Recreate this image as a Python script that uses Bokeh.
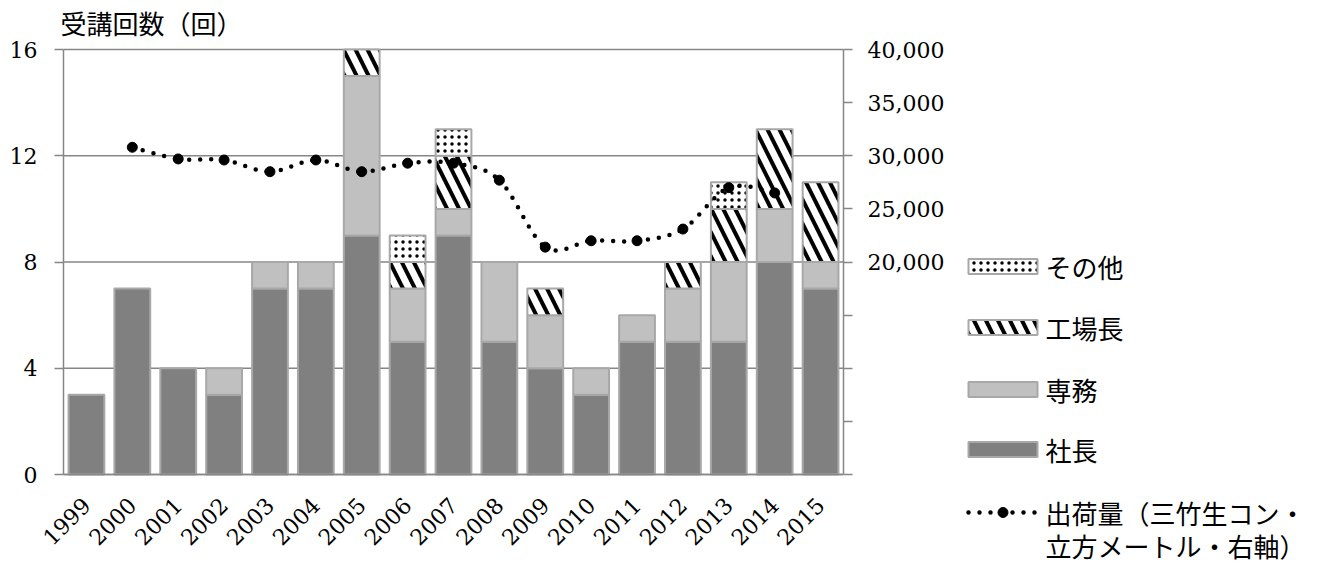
import math
import numpy as np
from bokeh.plotting import figure
from bokeh.layouts import row
from bokeh.core.properties import value
from bokeh.models import (Range1d, LinearAxis, FixedTicker, NumeralTickFormatter,
                          Label)
from bokeh.embed import file_html
from bokeh.resources import INLINE

# --- data -------------------------------------------------------------
years = [str(y) for y in range(1999, 2016)]
president = [3, 7, 4, 3, 7, 7, 9, 5, 9, 5, 4, 3, 5, 5, 5, 8, 7]      # 社長
director = [0, 0, 0, 1, 1, 1, 6, 2, 1, 3, 2, 1, 1, 2, 3, 2, 1]       # 専務
plant_mgr = [0, 0, 0, 0, 0, 0, 1, 1, 2, 0, 1, 0, 0, 1, 2, 3, 3]      # 工場長
others = [0, 0, 0, 0, 0, 0, 0, 1, 1, 0, 0, 0, 0, 0, 1, 0, 0]         # その他

ship_years = years[1:16]   # 2000-2014
shipments = [30800, 29700, 29600, 28500, 29600, 28500, 29300, 29300,
             27700, 21400, 22000, 22000, 23100, 27000, 26500]

left_ticks = [0, 4, 8, 12, 16]
right_ticks = [0, 5000, 10000, 15000, 20000, 25000, 30000, 35000, 40000]
right_hidden = [0, 5000, 10000, 15000]

legend_labels = ["その他", "工場長", "専務", "社長"]
line_label = ["出荷量（三竹生コン・", "立方メートル・右軸）"]
y_title = "受講回数（回）"

GRAY_AXIS = "#868686"
OUTLINE = "#a8a8a8"
NUM_FONT = "DejaVu Serif"
JP_FONT = "Noto Sans CJK JP"

CHART_W, LEGEND_W, H = 963, 354, 563
PLOT_LEFT, PLOT_RIGHT = 63, 843          # pixel columns of the two value axes
PLOT_TOP, PLOT_BOTTOM = 49, 474          # pixel rows of the 16 and 0 gridlines
TITLE_ROW = 22
LEFT_MAX, RIGHT_MAX = 16, 40000
N = len(years)

styles = {
    "社長": dict(fill_color="#808080"),
    "専務": dict(fill_color="#c0c0c0"),
    "工場長": dict(fill_color="white", hatch_pattern="\\", hatch_color="black",
                hatch_weight=4, hatch_scale=24),
    "その他": dict(fill_color="white", hatch_pattern=".", hatch_color="black",
                hatch_weight=1.4, hatch_scale=7),
}
line_style = dict(line_color="black", line_width=4.5, line_dash="0 11",
                  line_cap="round")

# The frame covers the canvas from its left edge down to its bottom edge, so
# axis labels are never clipped; the ranges are padded so that the category
# band and the 0..16 scale land on the pixel box given above.
span_y = PLOT_BOTTOM - PLOT_TOP
pad_top = PLOT_TOP / span_y
pad_bot = (H - PLOT_BOTTOM) / span_y
px_per_cat = (PLOT_RIGHT - PLOT_LEFT) / N
x_lo = -0.5 - PLOT_LEFT / px_per_cat

# ======================= main chart =====================================
p = figure(width=CHART_W, height=H, output_backend="svg", toolbar_location=None,
           title=None,
           x_range=Range1d(x_lo, N - 0.5),
           y_range=Range1d(-LEFT_MAX * pad_bot, LEFT_MAX * (1 + pad_top)),
           min_border_left=0, min_border_right=CHART_W - PLOT_RIGHT,
           min_border_top=0, min_border_bottom=0)
p.outline_line_color = None
p.extra_y_ranges = {"right": Range1d(-RIGHT_MAX * pad_bot,
                                     RIGHT_MAX * (1 + pad_top))}
p.xgrid.visible = False
p.ygrid.visible = False

# horizontal gridlines between the two value axes
p.segment(x0=[-0.5] * len(left_ticks), x1=[N - 0.5] * len(left_ticks),
          y0=left_ticks, y1=left_ticks, line_color=GRAY_AXIS, line_width=1.5)

x = np.arange(N)
pres = np.array(president, dtype=float)
dire = np.array(director, dtype=float)
plant = np.array(plant_mgr, dtype=float)
oth = np.array(others, dtype=float)

b0 = np.zeros_like(pres)
b1 = b0 + pres
b2 = b1 + dire
b3 = b2 + plant
b4 = b3 + oth

BAR_W = 0.78


def stack(bottom, top, **style):
    m = top > bottom
    return p.vbar(x=x[m], bottom=bottom[m], top=top[m], width=BAR_W,
                  line_color=OUTLINE, line_width=2, **style)


stack(b0, b1, **styles["社長"])
stack(b1, b2, **styles["専務"])
stack(b2, b3, **styles["工場長"])
stack(b3, b4, **styles["その他"])

# shipments: smoothed dotted curve (cubic Bezier through each point)
sx = np.array([years.index(y) for y in ship_years], dtype=float)
sy = np.array(shipments, dtype=float)
n = len(sx)
x0, y0, x1, y1, cx0, cy0, cx1, cy1 = ([] for _ in range(8))
for i in range(n - 1):
    pm = max(i - 1, 0)
    pp = min(i + 2, n - 1)
    x0.append(sx[i]); y0.append(sy[i])
    x1.append(sx[i + 1]); y1.append(sy[i + 1])
    cx0.append(sx[i] + (sx[i + 1] - sx[pm]) / 6)
    cy0.append(sy[i] + (sy[i + 1] - sy[pm]) / 6)
    cx1.append(sx[i + 1] - (sx[pp] - sx[i]) / 6)
    cy1.append(sy[i + 1] - (sy[pp] - sy[i]) / 6)

p.bezier(x0=x0, y0=y0, x1=x1, y1=y1, cx0=cx0, cy0=cy0, cx1=cx1, cy1=cy1,
         y_range_name="right", **line_style)
p.scatter(sx, sy, size=10, color="black", y_range_name="right")

# axis title above the left axis
title_y = LEFT_MAX * (1 + (PLOT_TOP - TITLE_ROW) / span_y)
title_x = -0.5 - 3 / px_per_cat
p.add_layout(Label(x=title_x, y=title_y, text=y_title, text_font=JP_FONT,
                   text_font_size="26px", text_color="black",
                   text_baseline="middle", text_align="left"))

# left axis, pinned at the left edge of the category band
yax = p.yaxis[0]
yax.fixed_location = -0.5
yax.ticker = FixedTicker(ticks=left_ticks)
yax.bounds = (0, LEFT_MAX)
yax.axis_line_color = GRAY_AXIS
yax.axis_line_width = 1.5
yax.major_tick_line_color = GRAY_AXIS
yax.major_tick_line_width = 1.5
yax.major_tick_out = 9
yax.major_tick_in = 0
yax.minor_tick_line_color = None
yax.major_label_text_font = NUM_FONT
yax.major_label_text_font_size = "22px"
yax.major_label_text_color = "black"
yax.major_label_standoff = 17

# category axis, pinned at zero
xax = p.xaxis[0]
xax.fixed_location = 0
xax.bounds = (-0.5, N - 0.5)
xax.ticker = FixedTicker(ticks=list(range(N)))
xax.major_label_overrides = {i: y for i, y in enumerate(years)}
xax.major_label_orientation = math.pi / 4
xax.major_label_text_font = NUM_FONT
xax.major_label_text_font_size = "22px"
xax.major_label_text_color = "black"
xax.major_label_standoff = 21
xax.axis_line_color = GRAY_AXIS
xax.axis_line_width = 1.5
xax.major_tick_line_color = None
xax.minor_tick_line_color = None

rax = LinearAxis(y_range_name="right",
                 ticker=FixedTicker(ticks=right_ticks),
                 formatter=NumeralTickFormatter(format="0,0"),
                 bounds=(0, RIGHT_MAX))
rax.major_label_overrides = {v: "" for v in right_hidden}
rax.axis_line_color = GRAY_AXIS
rax.axis_line_width = 1.5
rax.major_tick_line_color = GRAY_AXIS
rax.major_tick_line_width = 1.5
rax.major_tick_out = 9
rax.major_tick_in = 0
rax.minor_tick_line_color = None
rax.major_label_text_font = NUM_FONT
rax.major_label_text_font_size = "22px"
rax.major_label_text_color = "black"
rax.major_label_standoff = 15
p.add_layout(rax, "right")

# ======================= legend panel ===================================
# plotted in page pixel units: x along the page, y downward from the top
lg = figure(width=LEGEND_W, height=H, output_backend="svg", toolbar_location=None,
            title=None,
            x_range=Range1d(CHART_W, CHART_W + LEGEND_W), y_range=Range1d(H, 0),
            x_axis_type=None, y_axis_type=None,
            min_border_left=0, min_border_right=0,
            min_border_top=0, min_border_bottom=0)
lg.outline_line_color = None
lg.grid.visible = False

key_left, key_right, key_h = 968, 1037, 15
label_x = 1045
key_rows = [266, 327, 389, 449]
line_rows = [512, 545]

for lab, yc in zip(legend_labels, key_rows):
    lg.quad(left=[key_left], right=[key_right], top=[yc - key_h / 2],
            bottom=[yc + key_h / 2], line_color=OUTLINE, line_width=2,
            **styles[lab])
lg.text(x=[label_x] * len(key_rows), y=key_rows, text=legend_labels,
        text_font=value(JP_FONT), text_font_size="26px", text_color="black",
        text_baseline="middle", text_align="left")

lg.line(x=[key_left, key_right], y=[line_rows[0]] * 2, **line_style)
lg.scatter(x=[(key_left + key_right) / 2], y=[line_rows[0]], size=10, color="black")
lg.text(x=[label_x] * 2, y=line_rows, text=line_label,
        text_font=value(JP_FONT), text_font_size="26px", text_color="black",
        text_baseline="middle", text_align="left")

layout = row(p, lg, spacing=0)
open("out.html", "w").write(file_html(layout, INLINE))
